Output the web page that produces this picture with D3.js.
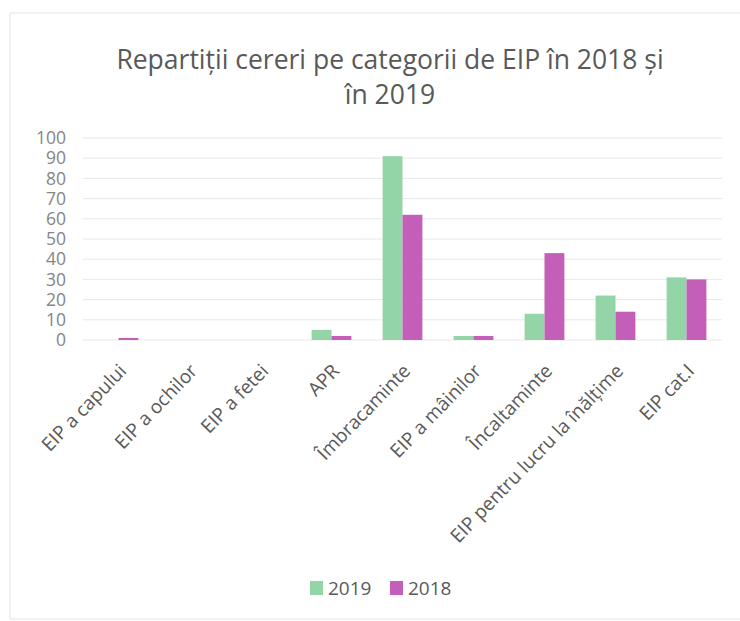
<!DOCTYPE html>
<html><head><meta charset="utf-8">
<script src="https://cdn.jsdelivr.net/npm/d3@7"></script>
<style>body{margin:0;background:#fff;} svg{display:block;}</style>
</head><body>
<svg id="c" width="740" height="621"></svg>
<script>
const categories = ["EIP a capului","EIP a ochilor","EIP a fetei","APR","Îmbracaminte","EIP a mâinilor","Încaltaminte","EIP pentru lucru la înălțime","EIP cat.I"];
const seriesNames = ["2019","2018"];
const values2019 = [0,0,0,5,91,2,13,22,31];
const values2018 = [1,0,0,2,62,2,43,14,30];
const yTicks = [0,10,20,30,40,50,60,70,80,90,100];
const colors = {"2019":"#93d5a6","2018":"#c35fb9"};
const titleLines = ["Repartiții cereri pe categorii de EIP în 2018 și","în 2019"];

const svg = d3.select("#c");
const font = "'Open Sans', sans-serif";
svg.append("rect").attr("x",10).attr("y",13).attr("width",760).attr("height",606)
  .attr("fill","none").attr("stroke","#e3e3e3").attr("stroke-width",1);

const x = d3.scaleBand().domain(categories).range([83,722]).paddingInner(0.44).paddingOuter(0.22);
const xs = d3.scaleBand().domain(seriesNames).range([0,x.bandwidth()]);
const y = d3.scaleLinear().domain([0,100]).range([340,138]);

// gridlines
svg.append("g").selectAll("line").data(yTicks).join("line")
  .attr("x1",83).attr("x2",722).attr("y1",d=>y(d)).attr("y2",d=>y(d))
  .attr("stroke","#e8e8e8").attr("stroke-width",1);

// y axis
const yAxis = svg.append("g").attr("transform","translate(66,0)")
  .call(d3.axisLeft(y).tickValues(yTicks).tickSize(0).tickPadding(0));
yAxis.select(".domain").remove();
yAxis.selectAll("text").attr("font-family",font).attr("font-size",17.5).attr("fill","#858585");

// bars
const data = categories.map((c,i)=>({c, v:{"2019":values2019[i],"2018":values2018[i]}}));
const g = svg.append("g").selectAll("g").data(data).join("g")
  .attr("transform",d=>`translate(${x(d.c)},0)`);
g.selectAll("rect").data(d=>seriesNames.map(s=>({s,v:d.v[s]}))).join("rect")
  .attr("x",d=>xs(d.s)).attr("width",xs.bandwidth())
  .attr("y",d=>y(d.v)).attr("height",d=>y(0)-y(d.v))
  .attr("fill",d=>colors[d.s]);

// x axis labels
const xAxis = svg.append("g").attr("transform","translate(0,340)")
  .call(d3.axisBottom(x).tickSize(0).tickPadding(0));
xAxis.select(".domain").remove();
xAxis.selectAll("text").attr("font-family",font).attr("font-size",19).attr("fill","#595959")
  .attr("text-anchor","end").attr("dy",0)
  .attr("transform","translate(9,32) rotate(-46)");

// title
svg.append("g").selectAll("text").data(titleLines).join("text")
  .attr("x",390).attr("y",(d,i)=>69+i*35).attr("text-anchor","middle")
  .attr("font-family",font).attr("font-size",26.5).attr("fill","#595959").text(d=>d);

// legend
const leg = svg.append("g").selectAll("g").data(seriesNames).join("g")
  .attr("transform",(d,i)=>`translate(${310+i*80},581)`);
leg.append("rect").attr("width",13).attr("height",14).attr("fill",d=>colors[d]);
leg.append("text").attr("x",18).attr("y",14).attr("font-family",font).attr("font-size",19)
  .attr("fill","#595959").text(d=>d);
</script>
</body></html>
